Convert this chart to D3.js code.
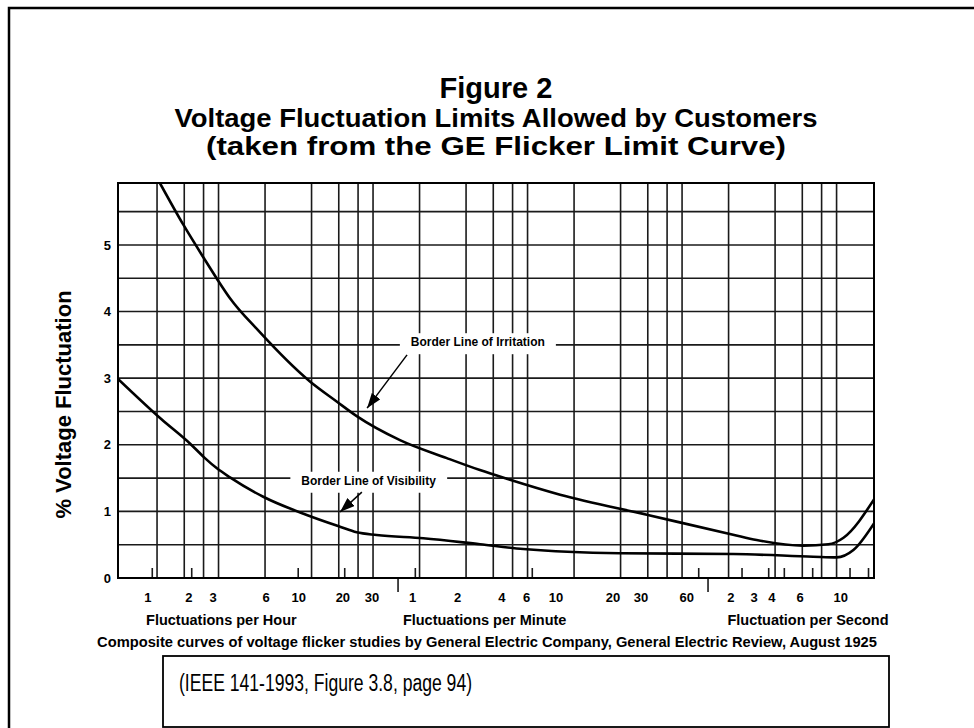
<!DOCTYPE html>
<html>
<head>
<meta charset="utf-8">
<script src="https://cdn.jsdelivr.net/npm/d3@7"></script>
<style>
  body { margin: 0; background: #fff; }
  svg { display: block; }
  text { font-family: Arial, "Liberation Sans", Helvetica, sans-serif; fill: #000; }
</style>
</head>
<body>
<svg id="chart" width="974" height="728"></svg>
<script>
// curve points: [fluctuations per hour, % voltage fluctuation]
const irritation = [[1.40, 5.93], [1.99, 5.30], [2.70, 4.80], [3.28, 4.49], [3.98, 4.20], [6.04, 3.72],
  [13.1, 2.95], [19.5, 2.65], [26.3, 2.43], [50.1, 2.07], [100.7, 1.80], [165, 1.62], [246, 1.49],
  [545, 1.25], [1983, 0.95], [7180, 0.65], [10200, 0.57], [20460, 0.485], [29700, 0.506],
  [37200, 0.605], [58600, 1.18]];
const visibility = [[0.75, 2.99], [1.44, 2.38], [2.19, 2.02], [2.74, 1.80], [3.26, 1.65], [3.98, 1.51],
  [6.53, 1.22], [12.5, 0.946], [20.5, 0.77], [26.3, 0.686], [35.4, 0.646], [71, 0.596], [165, 0.506],
  [315, 0.435], [1330, 0.371], [7210, 0.36], [23700, 0.32], [33600, 0.31], [43100, 0.42], [58600, 0.82]];

// axis labels (hour / minute / second groups)
const hourTicks = [1, 2, 3, 6, 10, 20, 30];
const minuteTicks = [1, 2, 4, 6, 10, 20, 30, 60];
const secondTicks = [2, 3, 4, 6, 10];
// where each of those labels is printed on the original (per hour, it is hand placed)
const labelAt = [1.17, 2.16, 3.09, 6.81, 11.1, 21.4, 33.0,
  60.5, 118.5, 229, 331, 513, 1200, 1820, 3600,
  6930, 9810, 12770, 19480, 35700];
const groupLabels = ['Fluctuations per Hour', 'Fluctuations per Minute', 'Fluctuation per Second'];
const groupAt = [3.5, 177, 21900];
const markTicks = [1.25, 2.25, 11, 22, 63, 360, 4300, 8200, 12200, 15400, 23500, 41000, 54000];
const dividers = [48.7, 4940];
const yLabels = [0, 1, 2, 3, 4, 5];
const yGrid = [0.5, 1, 1.5, 2, 2.5, 3, 3.5, 4, 4.5, 5, 5.5];
// log paper: lines at 1..5 of each cycle
const gridCycles = [0.671, 6.71, 67.1, 671, 6710];
const gridSteps = [1, 2, 3, 4, 5];

const notes = [
  { text: 'Border Line of Irritation', at: [160, 3.54], tail: [55.7, 3.35], tip: [30.7, 2.55] },
  { text: 'Border Line of Visibility', at: [31.4, 1.46], tail: [28.4, 1.29], tip: [20.5, 0.99] }
];

const svg = d3.select('#chart');
const pLeft = 118, pRight = 874, pTop = 183, pBottom = 578;

const x = d3.scaleLog().domain([0.75, 58600]).range([pLeft, pRight]);
const y = d3.scaleLinear().domain([0, 5.93]).range([pBottom, pTop]);

// outer frame (runs off the page on the right and bottom)
svg.append('rect')
  .attr('x', 9).attr('y', 8).attr('width', 1000).attr('height', 800)
  .attr('fill', 'none').attr('stroke', '#000').attr('stroke-width', 2.5);

// titles
const cx = (pLeft + pRight) / 2;
svg.append('text').attr('x', cx).attr('y', 98).attr('text-anchor', 'middle')
  .style('font-size', '29px').style('font-weight', 'bold').text('Figure 2');
svg.append('text').attr('x', cx).attr('y', 127).attr('text-anchor', 'middle')
  .attr('textLength', 643).attr('lengthAdjust', 'spacingAndGlyphs')
  .style('font-size', '26px').style('font-weight', 'bold').text('Voltage Fluctuation Limits Allowed by Customers');
svg.append('text').attr('x', cx).attr('y', 155).attr('text-anchor', 'middle')
  .attr('textLength', 580).attr('lengthAdjust', 'spacingAndGlyphs')
  .style('font-size', '26px').style('font-weight', 'bold').text('(taken from the GE Flicker Limit Curve)');

// grid
const grid = svg.append('g').attr('stroke', '#1a1a1a').attr('stroke-width', 1.6);
const vLines = [];
gridCycles.forEach(c => gridSteps.forEach(s => {
  const v = c * s;
  if (v > x.domain()[0] && v < x.domain()[1]) vLines.push(v);
}));
grid.selectAll('.vg').data(vLines).enter().append('line')
  .attr('x1', d => x(d)).attr('x2', d => x(d)).attr('y1', pTop).attr('y2', pBottom);
grid.selectAll('.hg').data(yGrid).enter().append('line')
  .attr('x1', pLeft).attr('x2', pRight).attr('y1', d => y(d)).attr('y2', d => y(d));

// small marks on the base line and the group dividers below it
grid.selectAll('.mk').data(markTicks).enter().append('line')
  .attr('x1', d => x(d)).attr('x2', d => x(d)).attr('y1', pBottom).attr('y2', pBottom - 10);
grid.selectAll('.dv').data(dividers).enter().append('line')
  .attr('x1', d => x(d)).attr('x2', d => x(d)).attr('y1', pBottom).attr('y2', pBottom + 14);

// plot border
svg.append('rect')
  .attr('x', pLeft).attr('y', pTop).attr('width', pRight - pLeft).attr('height', pBottom - pTop)
  .attr('fill', 'none').attr('stroke', '#000').attr('stroke-width', 2);

// curves
svg.append('clipPath').attr('id', 'plot').append('rect')
  .attr('x', pLeft).attr('y', pTop).attr('width', pRight - pLeft).attr('height', pBottom - pTop);
const line = d3.line().x(d => x(d[0])).y(d => y(d[1])).curve(d3.curveMonotoneX);
svg.selectAll('.curve').data([irritation, visibility]).enter().append('path')
  .attr('clip-path', 'url(#plot)')
  .attr('d', line).attr('fill', 'none').attr('stroke', '#000').attr('stroke-width', 2.6);

// annotations with white boxes cut out of the grid
svg.append('defs').append('marker')
  .attr('id', 'head').attr('markerUnits', 'userSpaceOnUse')
  .attr('viewBox', '0 0 14 10').attr('refX', 14).attr('refY', 5)
  .attr('markerWidth', 15).attr('markerHeight', 11).attr('orient', 'auto')
  .append('path').attr('d', 'M0,0 L14,5 L0,10 Z').attr('fill', '#000');

notes.forEach(n => {
  const g = svg.append('g');
  const box = g.append('rect').attr('fill', '#fff');
  const t = g.append('text').attr('x', x(n.at[0])).attr('y', y(n.at[1]) + 4)
    .attr('text-anchor', 'middle').style('font-size', '12px').style('font-weight', 'bold').text(n.text);
  const b = t.node().getBBox();
  box.attr('x', b.x - 11).attr('y', b.y - 2).attr('width', b.width + 22).attr('height', b.height + 7);
  g.append('line')
    .attr('x1', x(n.tail[0])).attr('y1', y(n.tail[1]))
    .attr('x2', x(n.tip[0])).attr('y2', y(n.tip[1]))
    .attr('stroke', '#000').attr('stroke-width', 1.5).attr('marker-end', 'url(#head)');
});

// y axis
svg.selectAll('.yl').data(yLabels).enter().append('text')
  .attr('x', 111).attr('y', d => y(d)).attr('dy', '0.36em').attr('text-anchor', 'end')
  .style('font-size', '13px').style('font-weight', 'bold').text(d => d);
svg.append('text')
  .attr('transform', `translate(63,${(pTop + pBottom) / 2 + 24}) rotate(-90)`)
  .attr('dy', '0.36em').attr('text-anchor', 'middle')
  .style('font-size', '22px').style('font-weight', 'bold').text('% Voltage Fluctuation');

// x labels
const xLabels = [].concat(hourTicks, minuteTicks, secondTicks)
  .map((t, i) => ({ t: t, v: labelAt[i] }));
svg.selectAll('.xl').data(xLabels).enter().append('text')
  .attr('x', d => x(d.v)).attr('y', 602).attr('text-anchor', 'middle')
  .style('font-size', '13px').style('font-weight', 'bold').text(d => d.t);
svg.selectAll('.gl').data(groupLabels).enter().append('text')
  .attr('x', (d, i) => x(groupAt[i])).attr('y', 625).attr('text-anchor', 'middle')
  .style('font-size', '14.5px').style('font-weight', 'bold').text(d => d);
svg.append('text').attr('x', 487).attr('y', 647).attr('text-anchor', 'middle')
  .style('font-size', '14.7px').style('font-weight', 'bold')
  .text('Composite curves of voltage flicker studies by General Electric Company, General Electric Review, August 1925');

// source box
svg.append('rect').attr('x', 163).attr('y', 656).attr('width', 726).attr('height', 71)
  .attr('fill', 'none').attr('stroke', '#000').attr('stroke-width', 1.8);
svg.append('text').attr('x', 179).attr('y', 691)
  .attr('textLength', 293).attr('lengthAdjust', 'spacingAndGlyphs')
  .style('font-size', '23px').text('(IEEE 141-1993, Figure 3.8, page 94)');
</script>
</body>
</html>
